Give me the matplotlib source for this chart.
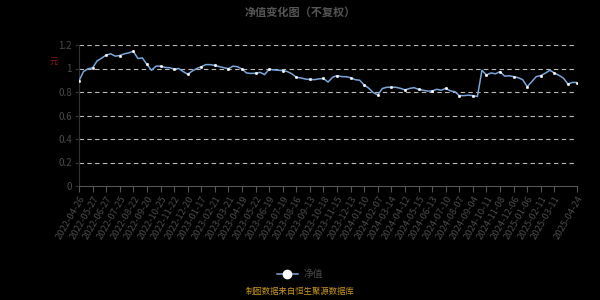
import matplotlib
matplotlib.use("Agg")
import matplotlib.pyplot as plt
from matplotlib.lines import Line2D

plt.rcParams['font.family'] = ['Noto Sans CJK SC', 'DejaVu Sans']

tick_labels = ["2022-04-26", "2022-05-27", "2022-06-27", "2022-07-25", "2022-08-22",
               "2022-09-20", "2022-10-25", "2022-11-22", "2022-12-20", "2023-01-17",
               "2023-02-21", "2023-03-21", "2023-04-19", "2023-05-22", "2023-06-19",
               "2023-07-19", "2023-08-16", "2023-09-13", "2023-10-18", "2023-11-15",
               "2023-12-13", "2024-01-10", "2024-02-07", "2024-03-14", "2024-04-12",
               "2024-05-15", "2024-06-13", "2024-07-10", "2024-08-07", "2024-09-04",
               "2024-10-11", "2024-11-08", "2024-12-06", "2025-01-06", "2025-02-11",
               "2025-03-11", "2025-04-24"]
tick_index = [3 * i for i in range(36)] + [110]

nav = [0.895, 0.975, 0.998, 1.005, 1.065, 1.088, 1.115, 1.125, 1.105, 1.110,
       1.125, 1.133, 1.146, 1.085, 1.090, 1.035, 0.985, 1.020, 1.020, 1.009,
       1.007, 0.995, 1.000, 0.974, 0.951, 0.978, 1.000, 1.015, 1.033, 1.033,
       1.026, 1.016, 1.007, 0.998, 1.020, 1.015, 0.995, 0.962, 0.958, 0.960,
       0.967, 0.948, 0.994, 0.988, 0.985, 0.982, 0.974, 0.955, 0.925, 0.920,
       0.910, 0.907, 0.905, 0.912, 0.915, 0.885, 0.925, 0.940, 0.931, 0.930,
       0.922, 0.905, 0.900, 0.860, 0.832, 0.795, 0.775, 0.830, 0.840, 0.840,
       0.840, 0.831, 0.818, 0.830, 0.837, 0.822, 0.815, 0.808, 0.808, 0.823,
       0.815, 0.831, 0.810, 0.803, 0.769, 0.769, 0.773, 0.769, 0.762, 0.985,
       0.945, 0.962, 0.955, 0.974, 0.935, 0.938, 0.931, 0.922, 0.905, 0.845,
       0.888, 0.931, 0.940, 0.960, 0.985, 0.962, 0.942, 0.918, 0.868, 0.882,
       0.880]

y_ticks = [0, 0.2, 0.4, 0.6, 0.8, 1.0, 1.2]
y_tick_labels = ["0", "0.2", "0.4", "0.6", "0.8", "1", "1.2"]

line_color = "#7aa6dc"
text_gray = "#4a4a4a"

fig = plt.figure(figsize=(6, 3), dpi=100, facecolor="black")
ax = fig.add_axes([0.1317, 0.38, 0.83, 0.47], facecolor="black")

x = list(range(len(nav)))
ax.plot(x, nav, color=line_color, lw=1.1, zorder=3)
mk = list(range(0, len(nav), 3)) + [len(nav) - 1]
ax.plot(x, nav, linestyle="none", marker="o", markevery=mk, ms=1.8,
        mfc="white", mec="white", mew=0.3, zorder=4)

ax.set_xlim(0, len(nav) - 1)
ax.set_ylim(0, 1.2)
ax.set_yticks(y_ticks)
ax.set_yticklabels(y_tick_labels)
ax.set_xticks(tick_index)
ax.set_xticklabels(tick_labels, rotation=60, ha="right", rotation_mode="anchor")

for v in y_ticks[1:]:
    ax.axhline(v, color="#bbbbbb", lw=0.8, ls=(0, (4, 3)), zorder=1)

for s in ["top", "right"]:
    ax.spines[s].set_visible(False)
ax.spines["left"].set_color("#333333")
ax.spines["bottom"].set_color("#555555")
ax.tick_params(axis="x", colors=text_gray, labelcolor=text_gray, labelsize=6.8,
               length=4, width=0.8, pad=2, color="#555555")
ax.tick_params(axis="y", colors=text_gray, labelcolor=text_gray, labelsize=7,
               length=3, width=0.8, pad=2, color="#333333")

fig.text(0.5, 0.96, "净值变化图（不复权）", ha="center", va="center",
         color="#555555", fontsize=8, fontweight="bold")
fig.text(0.09, 0.795, "元", ha="center", va="center", color="#8b1a1a", fontsize=6)

handle = Line2D([0], [0], color=line_color, lw=1.1, marker="o", ms=6,
                mfc="white", mec="white")
leg = fig.legend([handle], ["净值"], loc="center", bbox_to_anchor=(0.5, 0.085),
                 frameon=False, fontsize=7, handlelength=2.2, handletextpad=0.6)
for t in leg.get_texts():
    t.set_color(text_gray)

fig.text(0.5, 0.012, "制图数据来自恒生聚源数据库", ha="center", va="bottom",
         color="#c8961e", fontsize=6)

fig.savefig("out.png", dpi=100, facecolor="black")
